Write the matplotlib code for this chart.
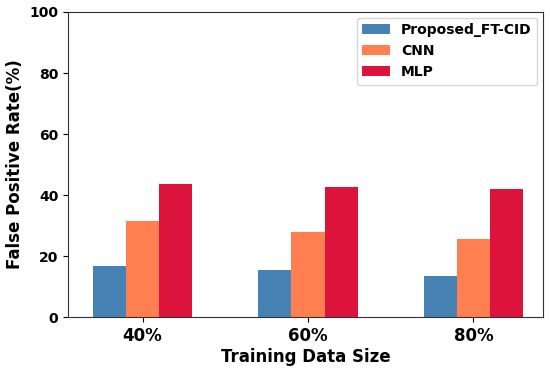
import matplotlib

matplotlib.use("Agg")
import matplotlib.pyplot as plt
import numpy as np

# ── data ──
sizes = ["40%", "60%", "80%"]
proposed = [16.7, 15.3, 13.5]
cnn = [31.4, 27.8, 25.5]
mlp = [43.7, 42.5, 42.0]

fig = plt.figure(figsize=(5.5, 3.74), dpi=100)
ax = fig.add_axes([0.124, 0.152, 0.863, 0.816])

x = np.arange(len(sizes))
w = 0.2
ax.bar(x - w, proposed, w, color="steelblue", label="Proposed_FT-CID")
ax.bar(x, cnn, w, color="coral", label="CNN")
ax.bar(x + w, mlp, w, color="crimson", label="MLP")

ax.set_xlim(-0.45, 2.42)
ax.set_ylim(0, 100)
ax.set_xticks(x)
ax.set_xticklabels(sizes, fontsize=12, fontweight="bold")
ax.set_yticks([0, 20, 40, 60, 80, 100])
for t in ax.get_yticklabels():
    t.set_fontsize(10)
    t.set_fontweight("bold")
ax.set_xlabel("Training Data Size", fontsize=12, fontweight="bold", labelpad=2)
ax.set_ylabel("False Positive Rate(%)", fontsize=12, fontweight="bold", labelpad=4)
for s in ax.spines.values():
    s.set_color("#333333")
ax.legend(loc="upper right", prop={"weight": "bold", "size": 10},
          borderaxespad=0.4)

fig.savefig("out.png", dpi=100)
